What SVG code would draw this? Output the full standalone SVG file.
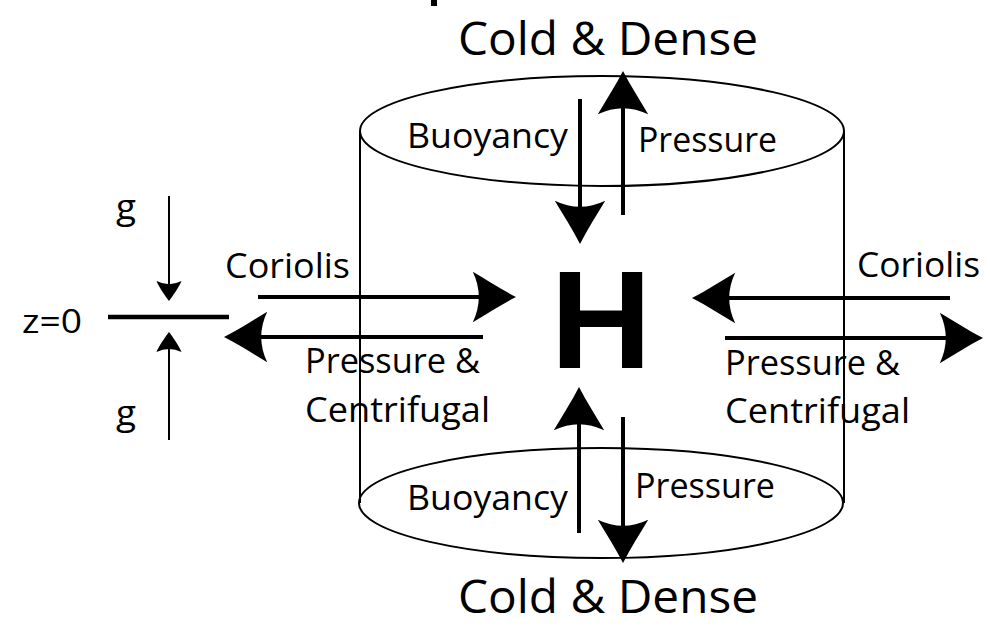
<svg xmlns="http://www.w3.org/2000/svg" width="990" height="627" viewBox="0 0 990 627">
<style>
.t{font-family:"Open Sans","Noto Sans","Liberation Sans",sans-serif;fill:#000}
.m{font-size:35px}
.big{font-size:46px}
.thin{stroke:#000;stroke-width:2;fill:none}
.arr{stroke:#000;stroke-width:4;fill:none}
.sm{stroke:#000;stroke-width:2;fill:none}
</style>
<defs>
<marker id="hb" markerUnits="userSpaceOnUse" orient="auto" markerWidth="60" markerHeight="60" refX="0" refY="0" viewBox="-10 -25 45 50" overflow="visible">
<path d="M30,0 C18,-6 6,-14 -6,-21 Q4,0 -6,21 C6,14 18,6 30,0 Z" fill="#000"/>
</marker>
<marker id="hs" markerUnits="userSpaceOnUse" orient="auto" markerWidth="30" markerHeight="30" refX="0" refY="0" viewBox="-6 -12 20 24" overflow="visible">
<path d="M12,0 C8,-3 1,-8 -4,-10 Q1,0 -4,10 C1,8 8,3 12,0 Z" fill="#000"/>
</marker>
</defs>
<rect width="990" height="627" fill="#fff"/>
<rect x="431" y="0" width="6" height="6" fill="#000"/>
<g id="cylinder">
<ellipse cx="602" cy="131" rx="242" ry="55" class="thin"/>
<ellipse cx="601" cy="503" rx="242" ry="55" class="thin"/>
<line x1="360" y1="131" x2="360" y2="503" class="thin"/>
<line x1="844" y1="131" x2="844" y2="503" class="thin"/>
</g>
<g id="zline">
<line x1="108" y1="317" x2="229" y2="317" stroke="#000" stroke-width="4.5"/>
<text class="t" x="22" y="333" style="font-size:33px" textLength="60" lengthAdjust="spacingAndGlyphs">z=0</text>
</g>
<g id="g-top"><text class="t m" x="116" y="219" textLength="20" lengthAdjust="spacingAndGlyphs">g</text></g>
<g id="g-bottom"><text class="t m" x="116" y="425" textLength="20" lengthAdjust="spacingAndGlyphs">g</text></g>
<g id="H"><text x="601" y="368" font-family="Liberation Sans, Arial, sans-serif" font-weight="bold" font-size="140" text-anchor="middle">H</text></g>
<g id="labels">
<text class="t big" x="458" y="55" textLength="300" lengthAdjust="spacingAndGlyphs">Cold &amp; Dense</text>
<text class="t big" x="458" y="613" textLength="300" lengthAdjust="spacingAndGlyphs">Cold &amp; Dense</text>
<text class="t m" x="407" y="148" textLength="161" lengthAdjust="spacingAndGlyphs">Buoyancy</text>
<text class="t m" x="638" y="152" textLength="139" lengthAdjust="spacingAndGlyphs">Pressure</text>
<text class="t m" x="225" y="278" textLength="125" lengthAdjust="spacingAndGlyphs">Coriolis</text>
<text class="t m" x="305" y="373" textLength="175" lengthAdjust="spacingAndGlyphs">Pressure &amp;</text>
<text class="t m" x="305" y="422" textLength="185" lengthAdjust="spacingAndGlyphs">Centrifugal</text>
<text class="t m" x="857" y="277" textLength="123" lengthAdjust="spacingAndGlyphs">Coriolis</text>
<text class="t m" x="725" y="375" textLength="175" lengthAdjust="spacingAndGlyphs">Pressure &amp;</text>
<text class="t m" x="725" y="423" textLength="185" lengthAdjust="spacingAndGlyphs">Centrifugal</text>
<text class="t m" x="407" y="510" textLength="161" lengthAdjust="spacingAndGlyphs">Buoyancy</text>
<text class="t m" x="635" y="498" textLength="140" lengthAdjust="spacingAndGlyphs">Pressure</text>
</g>
<g id="connectors">
<line x1="580" y1="99" x2="580" y2="208" class="arr" marker-end="url(#hb)"/>
<line x1="623" y1="215" x2="623" y2="107" class="arr" marker-end="url(#hb)"/>
<line x1="579" y1="533" x2="579" y2="423" class="arr" marker-end="url(#hb)"/>
<line x1="623" y1="417" x2="623" y2="527" class="arr" marker-end="url(#hb)"/>
<line x1="258" y1="297" x2="480" y2="297" class="arr" marker-end="url(#hb)"/>
<line x1="483" y1="337" x2="260" y2="337" class="arr" marker-end="url(#hb)"/>
<line x1="950" y1="298" x2="728" y2="298" class="arr" marker-end="url(#hb)"/>
<line x1="725" y1="338" x2="947" y2="338" class="arr" marker-end="url(#hb)"/>
<line x1="169" y1="196" x2="169" y2="286" class="sm" marker-end="url(#hs)"/>
<line x1="169" y1="440" x2="169" y2="347" class="sm" marker-end="url(#hs)"/>
</g>
</svg>
